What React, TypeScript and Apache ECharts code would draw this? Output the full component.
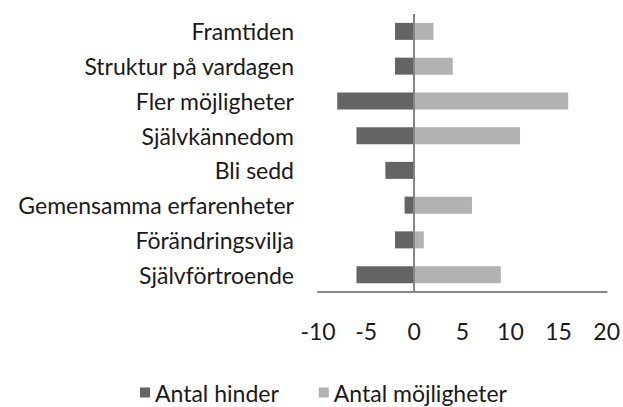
import React, { useEffect, useRef } from "react";
import * as echarts from "echarts";

const categories = [
  "Framtiden",
  "Struktur på vardagen",
  "Fler möjligheter",
  "Självkännedom",
  "Bli sedd",
  "Gemensamma erfarenheter",
  "Förändringsvilja",
  "Självförtroende",
];
const hinder = [-2, -2, -8, -6, -3, -1, -2, -6];
const mojligheter = [2, 4, 16, 11, 0, 6, 1, 9];
const seriesNames = ["Antal hinder", "Antal möjligheter"];

const FONT = "Lato, 'Open Sans', sans-serif";

export default function App() {
  const ref = useRef<HTMLDivElement>(null);
  useEffect(() => {
    if (!ref.current) return;
    const chart = echarts.init(ref.current, undefined, { renderer: "svg" });
    chart.setOption({
      animation: false,
      backgroundColor: "#ffffff",
      textStyle: { fontFamily: FONT },
      grid: { left: 318, right: 16, top: 14, bottom: 115, containLabel: false },
      legend: {
        data: seriesNames,
        left: 135,
        top: 376,
        icon: "rect",
        itemWidth: 10,
        itemHeight: 10,
        itemGap: 40,
        textStyle: { fontSize: 23, color: "#1a1a1a", fontFamily: FONT },
      },
      xAxis: {
        type: "value",
        min: -10,
        max: 20,
        interval: 5,
        axisLine: { show: true, onZero: false, lineStyle: { color: "#868686", width: 2 } },
        axisTick: { show: false },
        splitLine: { show: false },
        axisLabel: { fontSize: 23, color: "#1a1a1a", margin: 27, fontFamily: FONT },
      },
      yAxis: {
        type: "category",
        data: categories,
        inverse: true,
        axisLine: { show: false },
        axisTick: { show: false },
        axisLabel: { fontSize: 23, color: "#1a1a1a", margin: 24, fontFamily: FONT },
      },
      series: [
        {
          name: seriesNames[0],
          type: "bar",
          stack: "total",
          barWidth: 17,
          data: hinder,
          itemStyle: { color: "#646464" },
          markLine: {
            silent: true,
            symbol: "none",
            label: { show: false },
            lineStyle: { color: "#868686", width: 2, type: "solid" },
            data: [{ xAxis: 0 }],
          },
        },
        {
          name: seriesNames[1],
          type: "bar",
          stack: "total",
          barWidth: 17,
          data: mojligheter,
          itemStyle: { color: "#b2b2b2" },
        },
      ],
    });
    return () => chart.dispose();
  }, []);
  return (
    <div
      ref={ref}
      style={{ position: "absolute", left: 0, top: 0, width: 623, height: 407 }}
    />
  );
}
